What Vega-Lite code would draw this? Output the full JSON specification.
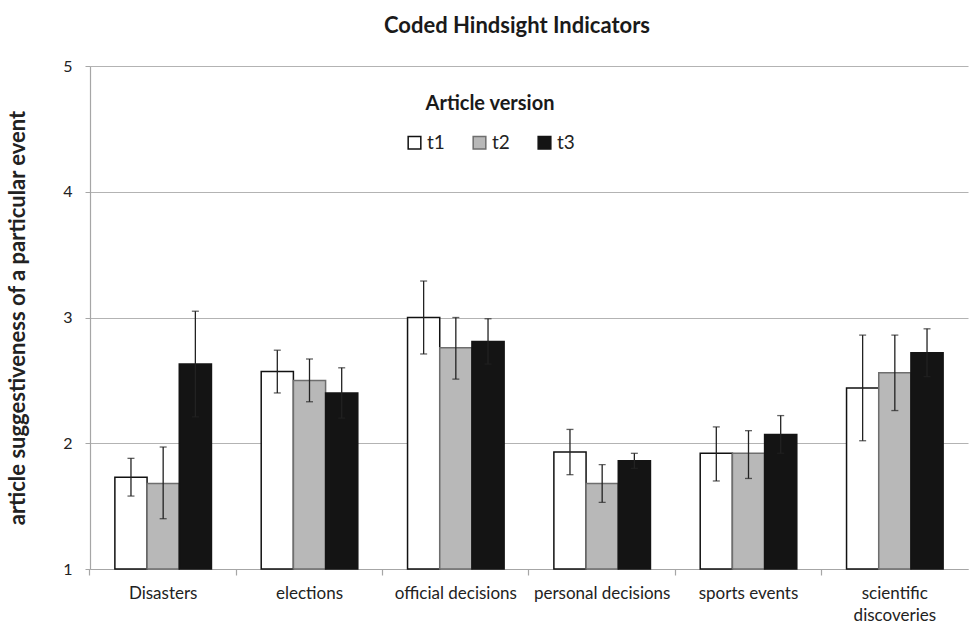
{
  "$schema": "https://vega.github.io/schema/vega-lite/v6.json",
  "width": 878,
  "height": 503,
  "autosize": {"type": "none"},
  "padding": {"left": 90, "top": 66, "right": 2, "bottom": 54},
  "background": "white",
  "config": {
    "font": "Lato",
    "view": {"stroke": null},
    "axis": {"labelFont": "Lato", "titleFont": "Lato", "labelColor": "#222", "titleColor": "#222"}
  },
  "title": {
    "text": "Coded Hindsight Indicators",
    "fontSize": 22,
    "fontWeight": "bold",
    "font": "Lato",
    "color": "#1a1a1a",
    "anchor": "middle",
    "dx": -12,
    "offset": 20
  },
  "data": {
    "values": [
      {"cat": "Disasters", "version": "t1", "mean": 1.73, "hi": 1.88, "lo": 1.58},
      {"cat": "Disasters", "version": "t2", "mean": 1.68, "hi": 1.97, "lo": 1.40},
      {"cat": "Disasters", "version": "t3", "mean": 2.63, "hi": 3.05, "lo": 2.21},
      {"cat": "elections", "version": "t1", "mean": 2.57, "hi": 2.74, "lo": 2.40},
      {"cat": "elections", "version": "t2", "mean": 2.50, "hi": 2.67, "lo": 2.33},
      {"cat": "elections", "version": "t3", "mean": 2.40, "hi": 2.60, "lo": 2.20},
      {"cat": "official decisions", "version": "t1", "mean": 3.00, "hi": 3.29, "lo": 2.71},
      {"cat": "official decisions", "version": "t2", "mean": 2.76, "hi": 3.00, "lo": 2.51},
      {"cat": "official decisions", "version": "t3", "mean": 2.81, "hi": 2.99, "lo": 2.63},
      {"cat": "personal decisions", "version": "t1", "mean": 1.93, "hi": 2.11, "lo": 1.75},
      {"cat": "personal decisions", "version": "t2", "mean": 1.68, "hi": 1.83, "lo": 1.53},
      {"cat": "personal decisions", "version": "t3", "mean": 1.86, "hi": 1.92, "lo": 1.80},
      {"cat": "sports events", "version": "t1", "mean": 1.92, "hi": 2.13, "lo": 1.70},
      {"cat": "sports events", "version": "t2", "mean": 1.92, "hi": 2.10, "lo": 1.72},
      {"cat": "sports events", "version": "t3", "mean": 2.07, "hi": 2.22, "lo": 1.92},
      {"cat": "scientific discoveries", "version": "t1", "mean": 2.44, "hi": 2.86, "lo": 2.02},
      {"cat": "scientific discoveries", "version": "t2", "mean": 2.56, "hi": 2.86, "lo": 2.26},
      {"cat": "scientific discoveries", "version": "t3", "mean": 2.72, "hi": 2.91, "lo": 2.53}
    ]
  },
  "encoding": {
    "x": {
      "field": "cat",
      "type": "nominal",
      "sort": null,
      "scale": {"paddingInner": 0.34, "paddingOuter": 0.17},
      "axis": {
        "title": null,
        "labelAngle": 0,
        "labelFontSize": 17,
        "labelPadding": 10,
        "labelColor": "#222",
        "labelExpr": "datum.label == 'scientific discoveries' ? ['scientific', 'discoveries'] : datum.label",
        "labelLineHeight": 22,
        "ticks": true,
        "bandPosition": -0.2576,
        "tickSize": 6,
        "tickColor": "#a6a6a6",
        "tickWidth": 1.2,
        "domainColor": "#a6a6a6",
        "domainWidth": 1.2
      }
    },
    "xOffset": {"field": "version", "type": "nominal", "scale": {"paddingInner": 0, "paddingOuter": 0}}
  },
  "layer": [
    {
      "mark": {"type": "bar", "strokeWidth": 1.5},
      "encoding": {
        "y": {
          "field": "mean",
          "type": "quantitative",
          "scale": {"domain": [1, 5], "nice": false, "zero": false},
          "axis": {
            "title": "article suggestiveness of a particular event",
            "titleFontSize": 22,
            "titleFontWeight": "bold",
            "titlePadding": 33,
            "values": [1, 2, 3, 4, 5],
            "format": "d",
            "labelFontSize": 16,
            "labelPadding": 13,
            "tickSize": 5,
            "tickColor": "#a6a6a6",
            "domainColor": "#a6a6a6",
            "domainWidth": 1.2,
            "gridColor": "#b3b3b3",
            "gridWidth": 1.2
          }
        },
        "y2": {"datum": 1},
        "fill": {
          "field": "version",
          "type": "nominal",
          "scale": {"domain": ["t1", "t2", "t3"], "range": ["#ffffff", "#b8b8b8", "#141414"]},
          "legend": {
            "title": "Article version",
            "orient": "none",
            "legendX": 315,
            "legendY": 28,
            "direction": "horizontal",
            "titleAnchor": "middle",
            "titleFontSize": 20,
            "titleFontWeight": "bold",
            "titleColor": "#1a1a1a",
            "titlePadding": 19,
            "labelFontSize": 19,
            "labelColor": "#222",
            "labelOffset": 3,
            "symbolType": "square",
            "symbolSize": 160,
            "symbolStrokeWidth": 1.5,
            "columnPadding": 25
          }
        },
        "stroke": {
          "field": "version",
          "type": "nominal",
          "scale": {"domain": ["t1", "t2", "t3"], "range": ["#111111", "#6e6e6e", "#141414"]},
          "legend": {
            "title": "Article version",
            "orient": "none",
            "legendX": 315,
            "legendY": 28,
            "direction": "horizontal",
            "titleAnchor": "middle",
            "titleFontSize": 20,
            "titleFontWeight": "bold",
            "titleColor": "#1a1a1a",
            "titlePadding": 19,
            "labelFontSize": 19,
            "labelColor": "#222",
            "labelOffset": 3,
            "symbolType": "square",
            "symbolSize": 160,
            "symbolStrokeWidth": 1.5,
            "columnPadding": 25
          }
        }
      }
    },
    {
      "mark": {"type": "rule", "color": "#222", "strokeWidth": 1.3},
      "encoding": {
        "y": {"field": "lo", "type": "quantitative"},
        "y2": {"field": "hi"}
      }
    },
    {
      "mark": {"type": "tick", "color": "#222", "thickness": 1.3, "size": 7, "orient": "horizontal"},
      "encoding": {
        "y": {"field": "hi", "type": "quantitative"}
      }
    },
    {
      "mark": {"type": "tick", "color": "#222", "thickness": 1.3, "size": 7, "orient": "horizontal"},
      "encoding": {
        "y": {"field": "lo", "type": "quantitative"}
      }
    }
  ]
}
